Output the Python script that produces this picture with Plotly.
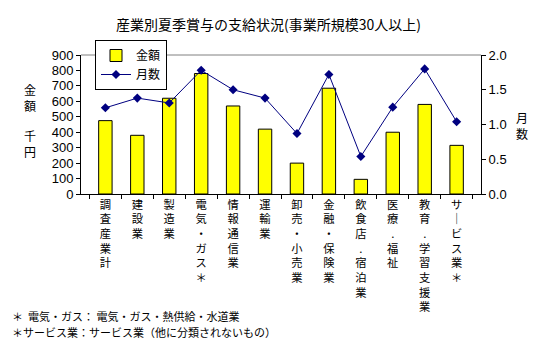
import plotly.graph_objects as go

categories = ["調査産業計", "建設業", "製造業", "電気・ガス＊", "情報通信業", "運輸業",
              "卸売・小売業", "金融・保険業", "飲食店.宿泊業", "医療.福祉", "教育.学習支援業", "サービス業＊"]
amount = [475, 380, 620, 780, 570, 420, 200, 685, 95, 400, 580, 315]
months = [1.24, 1.38, 1.31, 1.78, 1.50, 1.38, 0.87, 1.72, 0.54, 1.25, 1.80, 1.04]

W, H = 559, 345
L, R, T, B = 81, 481, 55, 194

def px(x):
    return (x - L) / (R - L)

def py(y):
    return (B - y) / (B - T)

def vert(s):
    s = s.replace("ー", "｜")
    return "<br>".join(list(s))

tick_text = [vert(c) for c in categories]
FONT = "Noto Sans CJK JP"
NUMFONT = "Liberation Sans"

fig = go.Figure()
fig.add_trace(go.Bar(x=categories, y=amount, name="金額",
                     marker=dict(color="#FFFF00", line=dict(color="black", width=1)),
                     yaxis="y"))
fig.add_trace(go.Scatter(x=categories, y=months, name="月数", mode="lines+markers",
                         line=dict(color="#000080", width=1),
                         marker=dict(symbol="diamond", size=7, color="#000080"),
                         yaxis="y2"))

fig.update_layout(
    width=W, height=H,
    margin=dict(l=L, r=W - R, t=T, b=H - B, pad=0),
    paper_bgcolor="white", plot_bgcolor="white",
    font=dict(family=FONT, size=12, color="black"),
    bargap=0.58,
    showlegend=True,
    legend=dict(x=px(95), y=py(40), xanchor="left", yanchor="top",
                bordercolor="black", borderwidth=1, bgcolor="white",
                font=dict(size=12), tracegroupgap=0),
    xaxis=dict(tickmode="array", tickvals=categories, ticktext=tick_text,
               tickson="boundaries", ticks="outside", ticklen=4, tickcolor="black",
               showline=True, linecolor="black", linewidth=1, showgrid=False,
               tickfont=dict(size=11.3), tickangle=0),
    yaxis=dict(range=[0, 900], dtick=100, ticks="outside", ticklen=4, tickcolor="black",
               showline=True, linecolor="black", linewidth=1, showgrid=False,
               zeroline=False, tickfont=dict(family=NUMFONT, size=13)),
    yaxis2=dict(range=[0, 2], dtick=0.5, tickformat=".1f", overlaying="y", side="right",
                ticks="outside", ticklen=4, tickcolor="black",
                showline=True, linecolor="black", linewidth=1, showgrid=False,
                zeroline=False, tickfont=dict(family=NUMFONT, size=13)),
    shapes=[dict(type="line", xref="paper", yref="paper", x0=0, x1=1, y0=1, y1=1,
                 line=dict(color="#808080", width=1))],
)

ann = [
    dict(text="産業別夏季賞与の支給状況(事業所規模30人以上)", x=px(268), y=py(24),
         font=dict(size=14)),
    dict(text="金<br>額", x=px(30), y=py(97), font=dict(size=12)),
    dict(text="千<br>円", x=px(30), y=py(143), font=dict(size=12)),
    dict(text="月<br>数", x=px(522), y=py(125), font=dict(size=12)),
    dict(text="＊  電気・ガス： 電気・ガス・熱供給・水道業", x=px(10), y=py(316),
         xanchor="left", font=dict(size=11)),
    dict(text="＊サービス業：サービス業（他に分類されないもの）", x=px(10), y=py(332),
         xanchor="left", font=dict(size=11)),
]
for a in ann:
    a.setdefault("xanchor", "center")
    a.update(xref="paper", yref="paper", yanchor="middle", showarrow=False)
    fig.add_annotation(**a)

fig.write_html("out.html")
